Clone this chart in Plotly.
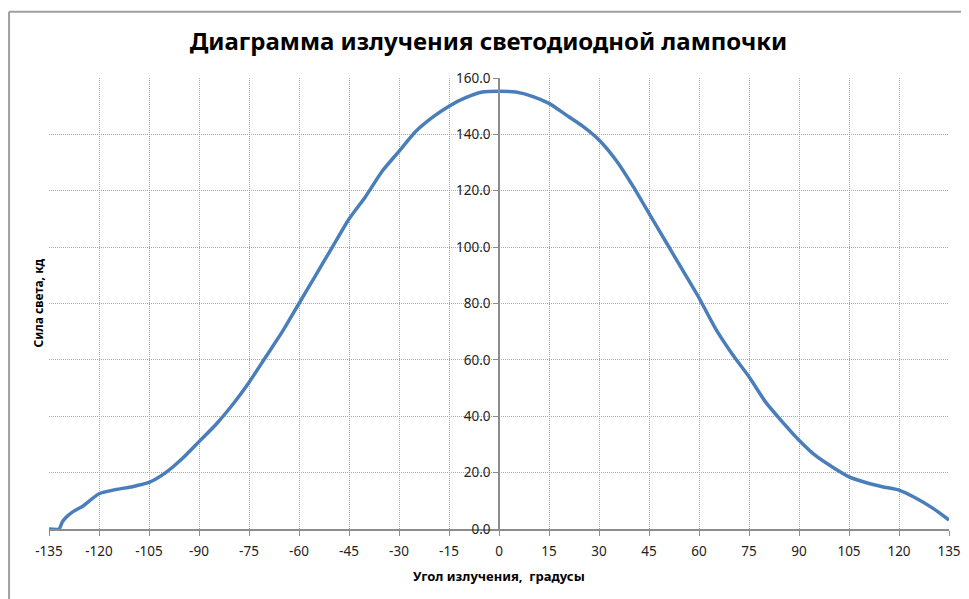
import plotly.graph_objects as go

angles = [-135, -132, -131, -130, -128, -125, -120, -115, -110, -105, -100, -95, -90,
          -85, -80, -75, -70, -65, -60, -55, -50, -45, -40, -35, -30, -25, -20, -15,
          -10, -5, 0, 5, 10, 15, 20, 25, 30, 35, 40, 45, 50, 55, 60, 65, 70, 75, 80,
          85, 90, 95, 100, 105, 110, 115, 120, 125, 130, 135]
intensity = [0, 0, 2.5, 4, 6, 8, 12.5, 14, 15, 16.5, 20, 25, 31,
             37, 44, 52, 61, 70, 80, 90, 100, 110, 118, 127, 134, 141, 146, 150,
             153, 155, 155.3, 155, 153.5, 151, 147, 143, 138, 131, 122, 112, 102, 92, 82, 71, 62, 54, 45,
             38, 31.5, 26, 22, 18.5, 16.5, 15, 13.8, 11, 7.5, 3.2]

x_ticks = list(range(-135, 136, 15))
y_ticks = list(range(0, 161, 20))

title_text = "Диаграмма излучения светодиодной лампочки"
x_title = "Угол излучения,  градусы"
y_title = "Сила света, кд"

fig = go.Figure()
fig.add_trace(go.Scatter(x=angles, y=intensity, mode="lines",
                         line=dict(color="#4A7EBB", width=3.5, shape="spline", smoothing=0.6),
                         hoverinfo="x+y", showlegend=False))

grid = dict(showgrid=True, gridcolor="#a8a8a8", griddash="1px,1px", gridwidth=1)
fig.update_layout(
    width=961, height=591,
    paper_bgcolor="white", plot_bgcolor="white",
    margin=dict(l=41, r=20, t=69.5, b=70, autoexpand=False),
    title=dict(text="<b>" + title_text + "</b>", x=0.5, xanchor="center", y=0.9425, yanchor="middle",
               font=dict(family="Noto Sans", size=24, color="#000000")),
    font=dict(family="Noto Sans", size=13.5, color="#222222"),
    xaxis=dict(range=[-135, 135], tickvals=x_ticks, ticktext=[str(v) for v in x_ticks],
               showline=True, linecolor="#8c8c8c", linewidth=1.5, ticks="outside",
               ticklen=5, tickcolor="#8c8c8c", zeroline=False, automargin=False,
               ticklabelstandoff=4, **grid),
    yaxis=dict(range=[0, 160], tickvals=y_ticks, ticktext=[f"{v:.1f}" for v in y_ticks],
               anchor="free", position=0.5, showline=True, linecolor="#8c8c8c", linewidth=1.5,
               ticks="outside", ticklen=5, tickcolor="#8c8c8c", zeroline=False, automargin=False,
               **grid),
    annotations=[
        dict(text="<b>" + x_title + "</b>", xref="paper", yref="paper", x=0.5, y=-0.105,
             xanchor="center", yanchor="middle", showarrow=False,
             font=dict(family="Noto Sans", size=13, color="#000000")),
        dict(text="<b>" + y_title + "</b>", xref="paper", yref="paper", x=-0.0122, y=0.5,
             xanchor="center", yanchor="middle", textangle=-90, showarrow=False,
             font=dict(family="Noto Sans", size=12, color="#000000")),
    ],
    shapes=[
        dict(type="line", xref="paper", yref="paper", x0=-0.0444, x1=-0.0444, y0=-0.2, y1=1.147,
             line=dict(color="#a0a0a0", width=2)),
        dict(type="line", xref="paper", yref="paper", x0=-0.0444, x1=1.1, y0=1.147, y1=1.147,
             line=dict(color="#a0a0a0", width=2)),
    ],
)

fig.write_html("out.html")
